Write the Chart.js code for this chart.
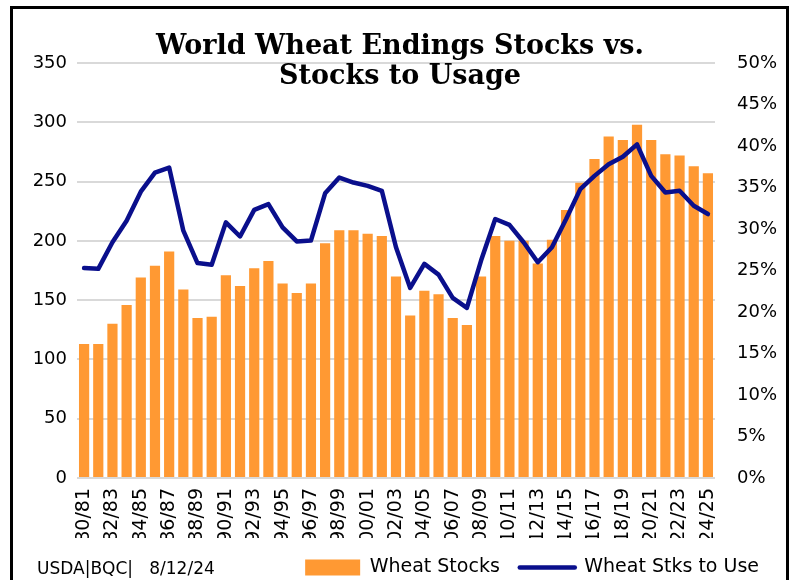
<!DOCTYPE html>
<html>
<head>
<meta charset="utf-8">
<script src="https://cdn.jsdelivr.net/npm/chart.js@4.4.1/dist/chart.umd.min.js"></script>
<style>
  html, body { margin: 0; padding: 0; background: #ffffff; }
  #wrap { position: relative; width: 791px; height: 580px; overflow: hidden; }
  canvas { display: block; }
</style>
</head>
<body>
<div id="wrap"><canvas id="c" width="791" height="580"></canvas></div>
<script>
const categories = ["80/81","81/82","82/83","83/84","84/85","85/86","86/87","87/88","88/89","89/90",
  "90/91","91/92","92/93","93/94","94/95","95/96","96/97","97/98","98/99","99/00",
  "00/01","01/02","02/03","03/04","04/05","05/06","06/07","07/08","08/09","09/10",
  "10/11","11/12","12/13","13/14","14/15","15/16","16/17","17/18","18/19","19/20",
  "20/21","21/22","22/23","23/24","24/25"];

const wheatStocks = [113,113,130,146,169,179,191,159,135,136,
  171,162,177,183,164,156,164,198,209,209,
  206,204,170,137,158,155,135,129,170,204,
  200,200,181,201,226,249,269,288,285,298,
  285,273,272,263,257];

const stocksToUse = [25.3,25.2,28.4,31.0,34.5,36.8,37.4,29.8,25.9,25.7,
  30.8,29.1,32.3,33.0,30.2,28.5,28.6,34.3,36.2,35.6,
  35.2,34.6,27.8,22.9,25.8,24.5,21.7,20.5,26.2,31.2,
  30.5,28.4,26.0,27.8,31.2,34.8,36.4,37.8,38.7,40.2,
  36.4,34.4,34.6,32.8,31.8];

const leftTicks = [0,50,100,150,200,250,300,350];
const rightTicks = [0,5,10,15,20,25,30,35,40,45,50];

const titleLines = ["World Wheat Endings Stocks vs.", "Stocks to Usage"];
const sourceText = "USDA|BQC|   8/12/24";

const ORANGE = "#FF9933";
const NAVY = "#0A0F8C";
const GRID = "#d9d9d9";

const decorPlugin = {
  id: "decor",
  beforeDraw(chart) {
    const ctx = chart.ctx;
    ctx.save();
    ctx.fillStyle = "#ffffff";
    ctx.fillRect(0, 0, chart.width, chart.height);
    ctx.restore();
  },
  afterDraw(chart) {
    const ctx = chart.ctx;
    ctx.save();
    ctx.fillStyle = "#000000";
    ctx.font = 'bold 27px "DejaVu Serif"';
    ctx.textAlign = "center";
    ctx.textBaseline = "alphabetic";
    ctx.fillText(titleLines[0], 400, 54);
    ctx.fillText(titleLines[1], 400, 84);
    ctx.font = '17px "DejaVu Sans"';
    ctx.textAlign = "left";
    ctx.fillText(sourceText, 37, 573.5);
    ctx.strokeStyle = "#000000";
    ctx.lineWidth = 3;
    ctx.strokeRect(11.5, 7.5, 776, 640);
    ctx.restore();
  }
};

new Chart(document.getElementById("c"), {
  data: {
    labels: categories,
    datasets: [
      {
        type: "bar",
        label: "Wheat Stocks",
        data: wheatStocks,
        backgroundColor: ORANGE,
        borderWidth: 0,
        barPercentage: 0.72,
        categoryPercentage: 1.0,
        yAxisID: "y",
        order: 2
      },
      {
        type: "line",
        label: "Wheat Stks to Use",
        data: stocksToUse,
        borderColor: NAVY,
        backgroundColor: NAVY,
        borderWidth: 4.5,
        pointRadius: 0,
        tension: 0,
        borderCapStyle: "round",
        borderJoinStyle: "round",
        yAxisID: "y1",
        order: 1
      }
    ]
  },
  options: {
    responsive: false,
    animation: false,
    devicePixelRatio: 1,
    layout: { padding: { top: 63, left: 0, right: 12, bottom: -7 } },
    plugins: {
      title: { display: false },
      tooltip: { enabled: false },
      legend: {
        display: true,
        position: "bottom",
        align: "end",
        labels: {
          usePointStyle: true,
          pointStyleWidth: 55,
          boxHeight: 16,
          padding: 20,
          color: "#000000",
          font: { family: "DejaVu Sans", size: 19 },
          generateLabels(chart) {
            return [
              { text: "Wheat Stocks", fillStyle: ORANGE, strokeStyle: ORANGE, lineWidth: 0, pointStyle: "rect", datasetIndex: 0, hidden: false, fontColor: "#000000" },
              { text: "Wheat Stks to Use", fillStyle: NAVY, strokeStyle: NAVY, lineWidth: 4.5, lineCap: "round", pointStyle: "line", datasetIndex: 1, hidden: false, fontColor: "#000000" }
            ];
          }
        }
      }
    },
    scales: {
      x: {
        type: "category",
        offset: true,
        grid: { display: false, drawTicks: false },
        border: { display: false },
        ticks: {
          autoSkip: false,
          minRotation: 90,
          maxRotation: 90,
          padding: 10,
          color: "#000000",
          font: { family: "DejaVu Sans", size: 19 },
          callback(value, index) { return index % 2 === 0 ? categories[index] : ""; }
        },
        afterFit(scale) { scale.height = 60; }
      },
      y: {
        type: "linear",
        position: "left",
        min: leftTicks[0],
        max: leftTicks[leftTicks.length - 1],
        afterBuildTicks(scale) { scale.ticks = leftTicks.map(v => ({ value: v })); },
        grid: { color: GRID, lineWidth: 2, drawTicks: false },
        border: { display: false },
        ticks: {
          padding: 10,
          color: "#000000",
          font: { family: "DejaVu Sans", size: 18 }
        },
        afterFit(scale) { scale.width = 77; }
      },
      y1: {
        type: "linear",
        position: "right",
        min: rightTicks[0],
        max: rightTicks[rightTicks.length - 1],
        afterBuildTicks(scale) { scale.ticks = rightTicks.map(v => ({ value: v })); },
        grid: { display: false, drawTicks: false },
        border: { display: false },
        ticks: {
          padding: 22,
          color: "#000000",
          font: { family: "DejaVu Sans", size: 18 },
          callback(v) { return v + "%"; }
        },
        afterFit(scale) { scale.width = 64; }
      }
    }
  },
  plugins: [decorPlugin]
});
</script>
</body>
</html>
